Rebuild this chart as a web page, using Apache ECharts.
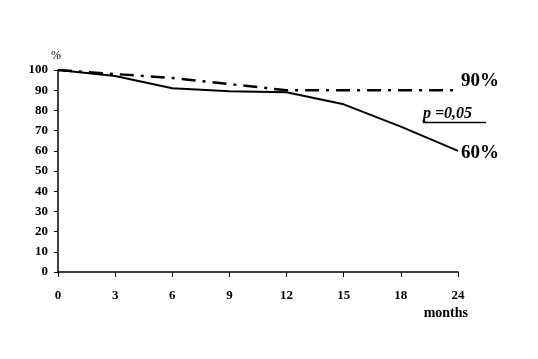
<!DOCTYPE html>
<html><head><meta charset="utf-8">
<script src="https://cdn.jsdelivr.net/npm/echarts@6/dist/echarts.min.js"></script>
<style>html,body{margin:0;padding:0;background:#fff}#c{width:538px;height:359px}</style>
</head><body><div id="c"></div>
<script>
var months = ['0','3','6','9','12','15','18','24'];
var yTicks = [0,10,20,30,40,50,60,70,80,90,100];
var solidSeries = [100, 97, 91, 89.5, 89, 83, 72, 60];
var dashSeries = [100, 98, 96, 93, 90, 90, 90, 90];
var solidLabel = '60%';
var dashLabel = '90%';
var pText = 'p =0,05';

var font = '"Liberation Serif","Times New Roman",serif';
var chart = echarts.init(document.getElementById('c'), null, {renderer:'canvas'});
chart.setOption({
  animation:false,
  backgroundColor:'#fff',
  grid:{left:58,right:80,top:70,bottom:87},
  xAxis:{type:'category',data:months,boundaryGap:false,
    axisLine:{lineStyle:{color:'#000',width:1.5}},
    axisTick:{show:true,alignWithLabel:true,length:5,lineStyle:{color:'#000',width:1}},
    axisLabel:{color:'#000',fontFamily:font,fontWeight:'bold',fontSize:13,margin:17},
    splitLine:{show:false},
    name:'months',nameLocation:'end',nameGap:0,
    nameTextStyle:{color:'#000',fontFamily:font,fontWeight:'bold',fontSize:14,align:'right',verticalAlign:'top',padding:[34,-10,0,0]}
  },
  yAxis:{type:'value',min:0,max:100,interval:10,
    axisLine:{show:true,lineStyle:{color:'#000',width:1.5}},
    axisTick:{show:true,length:4,lineStyle:{color:'#000',width:1}},
    axisLabel:{color:'#000',fontFamily:font,fontWeight:'bold',fontSize:13,margin:10,
      formatter:function(v){return yTicks.indexOf(v)>=0?String(v):'';}},
    splitLine:{show:false},
    name:'%',nameLocation:'end',nameGap:8,
    nameTextStyle:{color:'#000',fontFamily:font,fontSize:12,align:'center',padding:[0,0,0,-4]}
  },
  series:[
    {type:'line',data:solidSeries,symbol:'none',lineStyle:{color:'#000',width:2},
      endLabel:{show:true,formatter:solidLabel,color:'#000',fontFamily:font,fontWeight:'bold',fontSize:19,distance:3,offset:[0,2]}},
    {type:'line',data:dashSeries,symbol:'none',lineStyle:{color:'#000',width:2.5,type:[14,7,3,7]},
      endLabel:{show:true,formatter:dashLabel,color:'#000',fontFamily:font,fontWeight:'bold',fontSize:19,distance:3,offset:[0,-9]}}
  ],
  graphic:[
    {type:'text',left:423,top:106,style:{text:pText,fill:'#000',font:'italic bold 16px '+font}},
    {type:'line',shape:{x1:423,y1:122.5,x2:486,y2:122.5},style:{stroke:'#000',lineWidth:1.5}}
  ]
});
</script></body></html>
